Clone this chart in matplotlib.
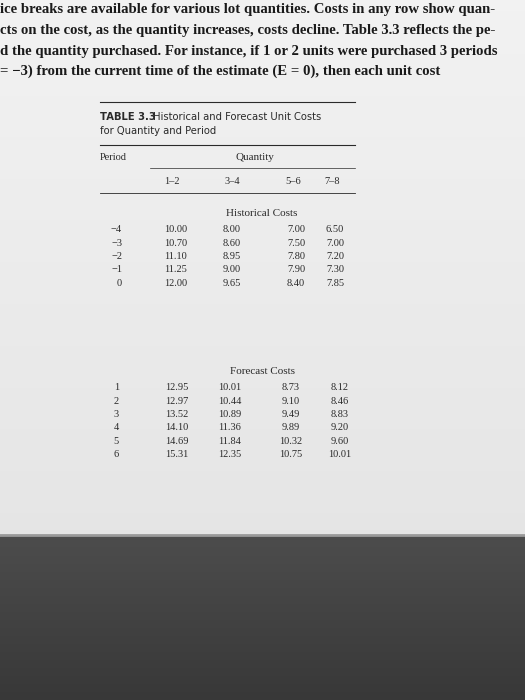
import numpy as np
import matplotlib

matplotlib.use("Agg")
import matplotlib.pyplot as plt

INTRO = [
    "ice breaks are available for various lot quantities. Costs in any row show quan-",
    "cts on the cost, as the quantity increases, costs decline. Table 3.3 reflects the pe-",
    "d the quantity purchased. For instance, if 1 or 2 units were purchased 3 periods",
    "= \u22123) from the current time of the estimate (E = 0), then each unit cost",
]
QTY_LABELS = ["1\u20132", "3\u20134", "5\u20136", "7\u20138"]
HIST_PERIODS = ["\u22124", "\u22123", "\u22122", "\u22121", "0"]
HIST_COSTS = [
    ["10.00", "8.00", "7.00", "6.50"],
    ["10.70", "8.60", "7.50", "7.00"],
    ["11.10", "8.95", "7.80", "7.20"],
    ["11.25", "9.00", "7.90", "7.30"],
    ["12.00", "9.65", "8.40", "7.85"],
]
FCST_PERIODS = ["1", "2", "3", "4", "5", "6"]
FCST_COSTS = [
    ["12.95", "10.01", "8.73", "8.12"],
    ["12.97", "10.44", "9.10", "8.46"],
    ["13.52", "10.89", "9.49", "8.83"],
    ["14.10", "11.36", "9.89", "9.20"],
    ["14.69", "11.84", "10.32", "9.60"],
    ["15.31", "12.35", "10.75", "10.01"],
]

fig = plt.figure(figsize=(5.25, 7.0), dpi=100)
ax = fig.add_axes([0, 0, 1, 1])
ax.set_xlim(0, 525)
ax.set_ylim(700, 0)
ax.axis("off")

# page + dark desk background
grad = np.linspace(0, 1, 200)[:, None]
ax.imshow(np.dstack([0.95 - 0.05 * grad] * 3), extent=(0, 525, 535, 0), aspect="auto")
ax.imshow(np.dstack([0.30 - 0.08 * grad] * 3), extent=(0, 525, 700, 535), aspect="auto")
ax.plot([0, 525], [535, 535], color="#9a9a9a", lw=2)

serif = "Liberation Serif"
for i, line in enumerate(INTRO):
    ax.text(0, 10 + i * 20.5, line, fontsize=10.6, family=serif, fontweight="bold",
            color="#1a1a1a", va="center", ha="left")

ink = "#2a2a2a"
ax.plot([100, 355], [102, 102], color=ink, lw=0.8)
ax.text(100, 117, "TABLE 3.3", fontsize=7.2, fontweight="bold", color=ink, va="center")
ax.text(153, 117, "Historical and Forecast Unit Costs", fontsize=7.2, color=ink, va="center")
ax.text(100, 131, "for Quantity and Period", fontsize=7.2, color=ink, va="center")
ax.plot([100, 355], [145, 145], color=ink, lw=0.8)
ax.text(100, 157, "Period", fontsize=7.5, family=serif, color=ink, va="center")
ax.text(255, 157, "Quantity", fontsize=8, family=serif, color=ink, va="center", ha="center")
ax.plot([150, 355], [168, 168], color=ink, lw=0.5)

hx = [172, 232, 293, 332]
for x, lab in zip(hx, QTY_LABELS):
    ax.text(x, 181, lab, fontsize=7.5, family=serif, color=ink, va="center", ha="center")
ax.plot([100, 355], [193, 193], color=ink, lw=0.6)

ax.text(262, 213, "Historical Costs", fontsize=8, family=serif, color=ink, ha="center", va="center")
hcols = [176, 232, 296, 335]
for r, (p, row) in enumerate(zip(HIST_PERIODS, HIST_COSTS)):
    y = 230 + r * 13.3
    ax.text(122, y, p, fontsize=7.5, family=serif, color=ink, ha="right", va="center")
    for x, v in zip(hcols, row):
        ax.text(x, y, v, fontsize=7.5, family=serif, color=ink, ha="center", va="center")

ax.text(262, 372, "Forecast Costs", fontsize=8, family=serif, color=ink, ha="center", va="center")
fcols = [177, 230, 291, 340]
for r, (p, row) in enumerate(zip(FCST_PERIODS, FCST_COSTS)):
    y = 388 + r * 13.3
    ax.text(119, y, p, fontsize=7.5, family=serif, color=ink, ha="right", va="center")
    for x, v in zip(fcols, row):
        ax.text(x, y, v, fontsize=7.5, family=serif, color=ink, ha="center", va="center")

fig.savefig("out.png", dpi=100)
